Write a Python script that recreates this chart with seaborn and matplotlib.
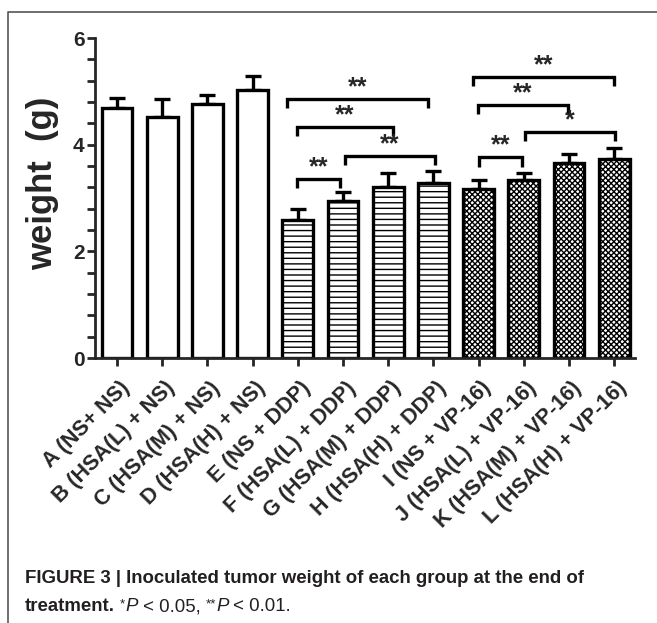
import matplotlib
matplotlib.use("Agg")
import matplotlib.pyplot as plt
import matplotlib.transforms as mtransforms
from matplotlib.ticker import MultipleLocator
from matplotlib.lines import Line2D
import seaborn as sns
import pandas as pd

# ---------------- data ----------------
groups = ["A (NS+ NS)", "B (HSA(L) + NS)", "C (HSA(M) + NS)", "D (HSA(H) + NS)",
          "E (NS + DDP)", "F (HSA(L) + DDP)", "G (HSA(M) + DDP)", "H (HSA(H) + DDP)",
          "I (NS + VP-16)", "J (HSA(L) + VP-16)", "K (HSA(M) + VP-16)", "L (HSA(H) + VP-16)"]
weights = [4.68, 4.51, 4.77, 5.03, 2.59, 2.95, 3.21, 3.29, 3.16, 3.33, 3.66, 3.74]
errors = [0.19, 0.34, 0.17, 0.25, 0.21, 0.17, 0.25, 0.21, 0.17, 0.14, 0.16, 0.19]
treatment = ["NS"] * 4 + ["DDP"] * 4 + ["VP-16"] * 4

# significance comparisons (bar positions)
cmp_left = [3.76, 3.98, 3.98, 5.04, 7.88, 7.99, 9.03, 8.00]
cmp_right = [6.88, 6.10, 4.93, 7.04, 11.00, 9.98, 11.02, 8.96]
cmp_height = [4.85, 4.33, 3.35, 3.78, 5.27, 4.74, 4.23, 3.76]
cmp_label = ["**", "**", "**", "**", "**", "**", "*", "**"]

ylabel = "weight  (g)"
caption1 = "FIGURE 3 | Inoculated tumor weight of each group at the end of"
caption2_bold = "treatment."
caption2_parts = [(" ", "normal", False), ("*", "normal", True), ("P", "italic", False),
                  (" < 0.05, ", "normal", False), ("**", "normal", True),
                  ("P", "italic", False), (" < 0.01.", "normal", False)]

df = pd.DataFrame({"group": groups, "weight": weights, "err": errors, "treatment": treatment})

# ---------------- style ----------------
sns.set_style("ticks")
plt.rcParams["font.family"] = ["Liberation Sans", "DejaVu Sans"]
plt.rcParams["hatch.linewidth"] = 1.0
plt.rcParams["hatch.color"] = "black"

W, H = 657, 623
fig = plt.figure(figsize=(W / 100, H / 100), dpi=100)
ax = fig.add_axes([95 / W, 1 - 358 / H, (635 - 95) / W, (358 - 38) / H])

sns.barplot(data=df, x="group", y="weight", hue="group", palette=["white"] * len(groups),
            saturation=1, edgecolor="black", linewidth=2.4, width=0.68,
            errorbar=None, legend=False, ax=ax)

hatch_map = {"NS": "", "DDP": "---", "VP-16": "xxxxxx"}
for patch, t in zip(ax.patches, df["treatment"]):
    patch.set_hatch(hatch_map[t])
    patch.set_zorder(2)

ax.errorbar(range(len(groups)), df["weight"], yerr=[[0] * len(groups), df["err"]],
            fmt="none", ecolor="black", elinewidth=2.4, capsize=6, capthick=2.4, zorder=1)

# significance brackets
drop = 0.17
for x0, x1, y, lab in zip(cmp_left, cmp_right, cmp_height, cmp_label):
    ax.plot([x0, x0, x1, x1], [y - drop, y, y, y - drop], color="black", lw=2.4,
            solid_capstyle="butt", solid_joinstyle="miter", zorder=3, clip_on=False)
    ax.text((x0 + x1) / 2, y + 0.0, lab, ha="center", va="bottom", fontsize=18,
            fontweight="bold", zorder=3)

# axes formatting
ax.set_ylim(0, 6)
ax.set_xlim(-0.487, 11.46)
ax.yaxis.set_major_locator(MultipleLocator(2))
ax.yaxis.set_minor_locator(MultipleLocator(0.4))
for s in ["top", "right"]:
    ax.spines[s].set_visible(False)
for s in ["left", "bottom"]:
    ax.spines[s].set_linewidth(2.0)
ax.tick_params(axis="y", which="both", direction="out", length=5.5, width=2.0, pad=2,
               labelsize=15)
ax.tick_params(axis="x", which="major", direction="out", length=6, width=2.0, pad=8,
               labelsize=15.5)
for lab in ax.get_yticklabels():
    lab.set_fontweight("bold")
ax.set_xlabel("")
ax.set_ylabel("")
ax.set_xticks(range(len(groups)))
ax.set_xticklabels(groups, rotation=45, ha="right", va="top", rotation_mode="anchor",
                   fontweight="bold")
offset = mtransforms.ScaledTranslation(2 / 100, 0, fig.dpi_scale_trans)
for lab in ax.get_xticklabels():
    lab.set_transform(lab.get_transform() + offset)

fig.text(43 / W, 1 - 183 / H, ylabel, rotation=90, ha="center", va="center",
         fontsize=25, fontweight="bold")

# figure frame (left and top lines)
fig.add_artist(Line2D([8 / W, 8 / W, 1], [0, 1 - 12 / H, 1 - 12 / H],
                      transform=fig.transFigure, color="#555555", lw=1.2))

# caption
cap_color = "#231f20"
cap_fs = 13.4
fig.text(25 / W, 1 - 583 / H, caption1, ha="left", va="baseline", fontsize=cap_fs,
         fontweight="bold", color=cap_color)
t0 = fig.text(25 / W, 1 - 611 / H, caption2_bold, ha="left", va="baseline", fontsize=cap_fs,
              fontweight="bold", color=cap_color)
renderer = fig.canvas.get_renderer()
x_px = t0.get_window_extent(renderer).x1
base_px = (1 - 611 / H) * H
for txt, st, sup in caption2_parts:
    fs = cap_fs * 0.72 if sup else cap_fs
    y = base_px + (4 if sup else 0)
    t = fig.text(x_px / W, y / H, txt, ha="left", va="baseline", fontsize=fs, style=st,
                 color=cap_color)
    x_px = t.get_window_extent(renderer).x1

fig.savefig("out.png", dpi=100)
